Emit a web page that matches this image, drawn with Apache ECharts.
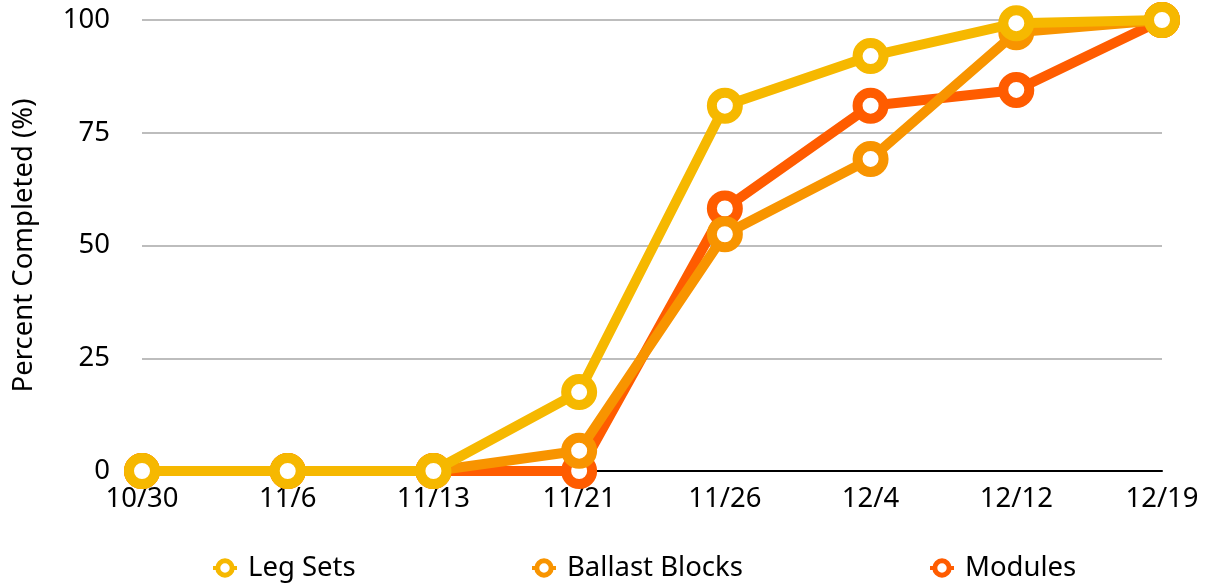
<!DOCTYPE html>
<html>
<head>
<meta charset="utf-8">
<script src="https://cdn.jsdelivr.net/npm/echarts@6/dist/echarts.min.js"></script>
<style>html,body{margin:0;padding:0;background:#fff}#c{width:1215px;height:587px}</style>
</head>
<body>
<div id="c"></div>
<script>
const categories = ['10/30','11/6','11/13','11/21','11/26','12/4','12/12','12/19'];
const legSets = [0, 0, 0, 17.5, 81, 92, 99.3, 100];
const ballastBlocks = [0, 0, 0, 4.5, 52.5, 69.2, 97.3, 100];
const modules = [0, 0, 0, 0, 58.2, 81, 84.5, 100];
const yTicks = [0, 25, 50, 75, 100];

const FONT = '"Noto Sans", sans-serif';
const FS = 27.5;
const colors = {leg:'#F6B800', ballast:'#F89400', modules:'#FF5C00'};

function mk(name, data, color, z) {
  return {
    name, type:'line', data, z,
    symbol:'circle', symbolSize:26,
    lineStyle:{width:10, color},
    itemStyle:{color:'#fff', borderColor:color, borderWidth:10},
    emphasis:{disabled:true},
    animation:false
  };
}
const legendCommon = {
  bottom: 0, itemWidth: 24, itemHeight: 18, itemGap: 0,
  itemStyle:{borderWidth:5},
  lineStyle:{width:4},
  textStyle:{fontFamily:FONT, fontSize:FS, color:'#000', padding:[0,0,0,6]},
  selectedMode:false
};
const chart = echarts.init(document.getElementById('c'));
chart.setOption({
  animation:false,
  grid:{left:142, right:53, top:20, bottom:116, containLabel:false},
  xAxis:{
    type:'category', data:categories, boundaryGap:false,
    axisLine:{show:true, lineStyle:{color:'#000', width:2}},
    axisTick:{show:false},
    axisLabel:{fontFamily:FONT, fontSize:FS, color:'#000', margin:14},
    splitLine:{show:false}
  },
  yAxis:{
    type:'value', min:0, max:100, interval:25,
    name:'Percent Completed (%)', nameLocation:'middle', nameGap:104, nameRotate:90,
    nameTextStyle:{fontFamily:FONT, fontSize:FS, color:'#000'},
    axisLine:{show:false}, axisTick:{show:false},
    axisLabel:{fontFamily:FONT, fontSize:FS, color:'#000', margin:32,
      formatter: v => yTicks.includes(v) ? String(v) : ''},
    splitLine:{lineStyle:{color:'#BDBDBD', width:2}}
  },
  legend:[
    Object.assign({left:206, data:['Leg Sets']}, legendCommon),
    Object.assign({left:525, data:['Ballast Blocks']}, legendCommon),
    Object.assign({left:923, data:['Modules']}, legendCommon)
  ],
  series:[
    mk('Leg Sets', legSets, colors.leg, 5),
    mk('Ballast Blocks', ballastBlocks, colors.ballast, 4),
    mk('Modules', modules, colors.modules, 3)
  ]
});
</script>
</body>
</html>
